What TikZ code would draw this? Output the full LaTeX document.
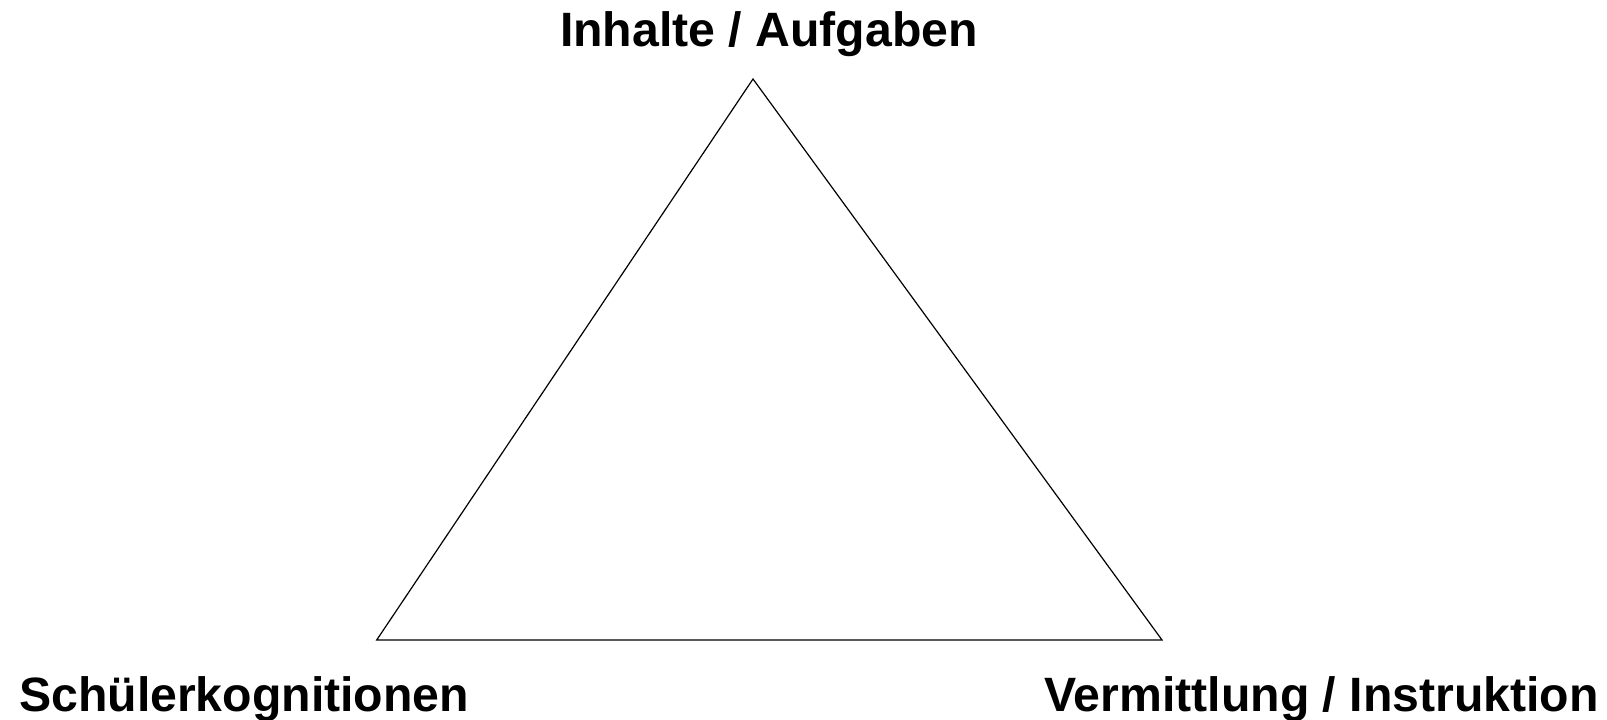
\documentclass[tikz,border=0pt]{standalone}
\usepackage{fontspec}
\setmainfont{Liberation Sans}
\usetikzlibrary{positioning}

\begin{document}
\begin{tikzpicture}[x=1pt,y=1pt,every node/.style={inner sep=0pt},
    cornerlabel/.style={font=\bfseries\fontsize{48.2}{56}\selectfont},
    edge/.style={line width=1.2pt, black}]
    \useasboundingbox (0,0) rectangle (1607,720);

    % corners of the triangle
    \coordinate (top) at (753,641);
    \coordinate (left) at (376.7,80);
    \coordinate (right) at (1162,80);
    \draw[edge] (top) -- (right) -- (left) -- cycle;

    % labels
    \node[cornerlabel, anchor=base] (inhalte) at (769,673.3) {Inhalte / Aufgaben};
    \node[cornerlabel, anchor=base west] (schueler) at (19,8) {Schülerkognitionen};
    \node[cornerlabel, anchor=base east] (vermittlung) at (1599,8) {Vermittlung / Instruktion};
\end{tikzpicture}
\end{document}
